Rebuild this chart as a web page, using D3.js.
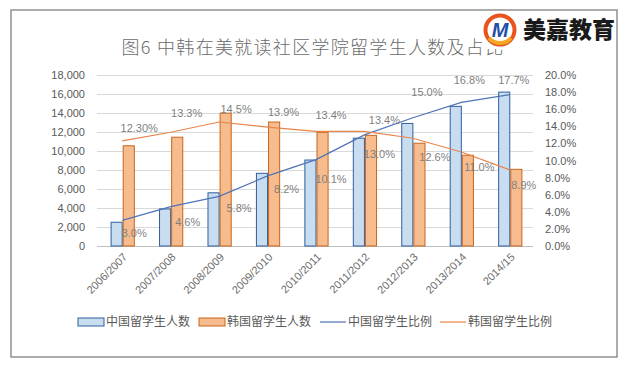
<!DOCTYPE html>
<html><head><meta charset="utf-8">
<script src="https://cdn.jsdelivr.net/npm/d3@7"></script>
<style>body{margin:0;background:#fff}svg{display:block}</style>
</head><body>
<svg id="c" width="628" height="370"></svg>
<script>
const categories = ["2006/2007","2007/2008","2008/2009","2009/2010","2010/2011","2011/2012","2012/2013","2013/2014","2014/15"];
const chinaCount = [2500, 3900, 5600, 7650, 9050, 11350, 12900, 14700, 16200];
const koreaCount = [10550, 11450, 13980, 13050, 11970, 11650, 10820, 9550, 8070];
const chinaRatio = [3.0, 4.6, 5.8, 8.2, 10.1, 13.0, 15.0, 16.8, 17.7];
const koreaRatio = [12.3, 13.3, 14.5, 13.9, 13.4, 13.4, 12.6, 11.0, 8.9];
const chinaLabels = ["3.0%","4.6%","5.8%","8.2%","10.1%","13.0%","15.0%","16.8%","17.7%"];
const koreaLabels = ["12.30%","13.3%","14.5%","13.9%","13.4%","13.4%","12.6%","11.0%","8.9%"];
const leftTicks = [0,2000,4000,6000,8000,10000,12000,14000,16000,18000];
const rightTicks = [0,2,4,6,8,10,12,14,16,18,20];
const seriesNames = ["中国留学生人数","韩国留学生人数","中国留学生比例","韩国留学生比例"];
const titleText = "图6 中韩在美就读社区学院留学生人数及占比";

// label offsets (layout, dragged labels in the original)
const chinaLabelOff = [[12,13],[17,15],[20,12],[19,13],[15,20],[15,19],[14,-26],[8,-22],[4,-15]];
const koreaLabelOff = [[17,-13],[16,-19],[17,-13],[16,-15],[15,-16],[20,-11],[22,19],[18,15],[14,15]];

const svg = d3.select("#c");
const FONT = "'Noto Sans CJK SC','Liberation Sans',sans-serif";
const NUMF = "'Liberation Sans','DejaVu Sans',sans-serif";
const grey = "#595959";

// frame
svg.append("rect").attr("x",11).attr("y",10).attr("width",606).attr("height",347)
  .attr("fill","#fff").attr("stroke","#808080").attr("stroke-width",1.3);

const x = d3.scaleBand().domain(categories).range([98, 534]);
const x1 = d3.scaleBand().domain(["cn","kr"]).range([x.bandwidth()*0.26, x.bandwidth()*0.76]);
const yL = d3.scaleLinear().domain([0,18000]).range([246, 75]);
const yR = d3.scaleLinear().domain([0,20]).range([246, 75]);

// gridlines
svg.append("g").selectAll("line").data(leftTicks).join("line")
  .attr("x1",97).attr("x2",533).attr("y1",d=>yL(d)+0.5).attr("y2",d=>yL(d)+0.5)
  .attr("stroke",d=>d===0?"#bfbfbf":"#d9d9d9").attr("stroke-width",1);

// left axis
const axL = d3.axisLeft(yL).tickValues(leftTicks).tickSize(0).tickPadding(0)
  .tickFormat(d3.format(","));
const gL = svg.append("g").attr("transform","translate(85,0)").call(axL);
gL.select(".domain").remove();
gL.selectAll("text").attr("font-family",NUMF).attr("font-size",11).attr("fill",grey);

// right axis
const axR = d3.axisRight(yR).tickValues(rightTicks).tickSize(0).tickPadding(0)
  .tickFormat(d=>d.toFixed(1)+"%");
const gR = svg.append("g").attr("transform","translate(545,0)").call(axR);
gR.select(".domain").remove();
gR.selectAll("text").attr("font-family",NUMF).attr("font-size",11).attr("fill",grey);

// bars
const bw = x1.bandwidth();
svg.append("g").selectAll("rect").data(chinaCount).join("rect")
  .attr("x",(d,i)=>x(categories[i])+x1("cn")+0.5).attr("y",d=>yL(d))
  .attr("width",bw-1).attr("height",d=>yL(0)-yL(d))
  .attr("fill","#c9ddf1").attr("stroke","#2f5f9e").attr("stroke-width",1);
svg.append("g").selectAll("rect").data(koreaCount).join("rect")
  .attr("x",(d,i)=>x(categories[i])+x1("kr")+0.5).attr("y",d=>yL(d))
  .attr("width",bw-1).attr("height",d=>yL(0)-yL(d))
  .attr("fill","#f6bc8e").attr("stroke","#c8651b").attr("stroke-width",1);

// lines
const cx = i => x(categories[i]) + x.bandwidth()/2;
const line = d3.line().x((d,i)=>cx(i)).y(d=>yR(d));
svg.append("path").datum(chinaRatio).attr("d",line).attr("fill","none")
  .attr("stroke","#4f74b8").attr("stroke-width",1.2);
svg.append("path").datum(koreaRatio).attr("d",line).attr("fill","none")
  .attr("stroke","#e8844a").attr("stroke-width",1.2);

// data labels
svg.append("g").selectAll("text").data(chinaRatio).join("text")
  .attr("x",(d,i)=>cx(i)+chinaLabelOff[i][0]).attr("y",(d,i)=>yR(d)+chinaLabelOff[i][1])
  .attr("dy","0.35em").attr("text-anchor","middle")
  .attr("font-family",NUMF).attr("font-size",11).attr("fill","#7f7f7f")
  .text((d,i)=>chinaLabels[i]);
svg.append("g").selectAll("text").data(koreaRatio).join("text")
  .attr("x",(d,i)=>cx(i)+koreaLabelOff[i][0]).attr("y",(d,i)=>yR(d)+koreaLabelOff[i][1])
  .attr("dy","0.35em").attr("text-anchor","middle")
  .attr("font-family",NUMF).attr("font-size",11).attr("fill","#7f7f7f")
  .text((d,i)=>koreaLabels[i]);

// x labels
svg.append("g").selectAll("text").data(categories).join("text")
  .attr("transform",(d,i)=>`translate(${cx(i)+3},${255}) rotate(-45)`)
  .attr("text-anchor","end").attr("dy","0.35em")
  .attr("font-family",NUMF).attr("font-size",11).attr("fill","#6b6b6b")
  .text(d=>d);

// title
svg.append("text").attr("x",313).attr("y",54).attr("text-anchor","middle")
  .attr("font-family",FONT).attr("font-size",18).attr("font-weight",300)
  .attr("letter-spacing",1.3)
  .attr("fill","#6b6b6b").text(titleText);

// legend
const lg = svg.append("g").attr("font-family",FONT).attr("font-size",12).attr("fill",grey);
const legX = [78, 199, 320, 440];
lg.append("rect").attr("x",legX[0]).attr("y",318).attr("width",26).attr("height",8)
  .attr("fill","#c9ddf1").attr("stroke","#2f5f9e");
lg.append("rect").attr("x",legX[1]).attr("y",318).attr("width",26).attr("height",8)
  .attr("fill","#f6bc8e").attr("stroke","#c8651b");
lg.append("line").attr("x1",legX[2]).attr("x2",legX[2]+26).attr("y1",322).attr("y2",322)
  .attr("stroke","#4f74b8").attr("stroke-width",1.2);
lg.append("line").attr("x1",legX[3]).attr("x2",legX[3]+26).attr("y1",322).attr("y2",322)
  .attr("stroke","#e8844a").attr("stroke-width",1.2);
lg.selectAll("text").data(seriesNames).join("text")
  .attr("x",(d,i)=>legX[i]+28).attr("y",322).attr("dy","0.36em").text(d=>d);

// logo
const logo = svg.append("g");
logo.append("rect").attr("x",482).attr("y",11).attr("width",134).attr("height",38).attr("fill","#fff");
logo.append("circle").attr("cx",500).attr("cy",30).attr("r",14.5)
  .attr("fill","#fff").attr("stroke","#e8541c").attr("stroke-width",4);
logo.append("path").attr("d","M489 38 A14.5 14.5 0 0 0 511 38").attr("fill","none")
  .attr("stroke","#f5a623").attr("stroke-width",4);
logo.append("text").attr("x",500).attr("y",37).attr("text-anchor","middle")
  .attr("font-family","'Liberation Sans',sans-serif").attr("font-size",20)
  .attr("font-weight",700).attr("font-style","italic").attr("fill","#1f4fa8").text("M");
logo.append("text").attr("x",523).attr("y",38)
  .attr("font-family",FONT).attr("font-size",23).attr("font-weight",900)
  .attr("fill","#1a1a1a").text("美嘉教育");
</script>
</body></html>
